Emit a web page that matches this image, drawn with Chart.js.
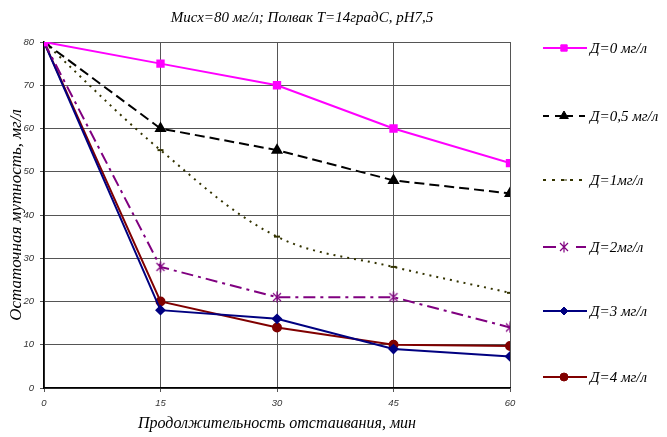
<!DOCTYPE html>
<html>
<head>
<meta charset="utf-8">
<script src="https://cdn.jsdelivr.net/npm/chart.js@4.4.1/dist/chart.umd.min.js"></script>
<style>
  html, body { margin: 0; padding: 0; background: #fff; }
  #wrap { width: 667px; height: 437px; }
</style>
</head>
<body>
<div id="wrap"><canvas id="turbChart" width="667" height="437"></canvas></div>
<script>
// times, min
const times = [0, 15, 30, 45, 60]

// residual turbidity per dose
const chartTitle = `Мисх=80 мг/л; Полвак Т=14градС, рН7,5`
const seriesNames = [`Д=0 мг/л`, `Д=0,5 мг/л`, `Д=1мг/л`, `Д=2мг/л`, `Д=3 мг/л`, `Д=4 мг/л`]
const d0 = [80, 75, 70, 60, 52]
const d05 = [80, 60, 55, 48, 45]
const d1 = [80, 55, 35, 28, 22]
const d2 = [80, 28, 21, 21, 14]
const d3 = [80, 18, 16, 9, 7.3]
const d4 = [80, 20, 14, 10, 9.7]

const xTicks = [0, 15, 30, 45, 60]
const yTicks = [0, 10, 20, 30, 40, 50, 60, 70, 80]

// asterisk marker like excel
const star = document.createElement(`canvas`)
star.width = 12; star.height = 12
let sc = star.getContext(`2d`)
sc.strokeStyle = `#800080`; sc.lineWidth = 1.2
sc.beginPath()
sc.moveTo(2, 2); sc.lineTo(10, 10)
sc.moveTo(10, 2); sc.lineTo(2, 10)
sc.moveTo(6, 0.5); sc.lineTo(6, 11.5)
sc.stroke()

const pts = vals => vals.map((v, i) => ({ x: times[i], y: v }))

const styles = [
  { color: `#ff00ff`, dash: [], point: `rect`, r: 4.5, w: 2 },
  { color: `#000000`, dash: [10, 5], point: `triangle`, r: 5, w: 2 },
  { color: `#333300`, dash: [2, 5], point: `line`, r: 3, w: 2, tension: 0.35 },
  { color: `#800080`, dash: [12, 5, 3, 5], point: star, r: 6, w: 2 },
  { color: `#000080`, dash: [], point: `rectRot`, r: 4, w: 2 },
  { color: `#800000`, dash: [], point: `circle`, r: 4, w: 2 }
]

const allData = [d0, d05, d1, d2, d3, d4]

// title + legend drawn by hand (excel puts them off-centre)
const sideLegend = {
  id: `sideLegend`,
  afterDraw(chart) {
    const ctx = chart.ctx
    const ys = [48, 116, 180, 247, 311, 377]
    ctx.save()
    ctx.fillStyle = `#000`
    ctx.font = `italic 15px "Liberation Serif"`
    ctx.textAlign = `center`
    ctx.textBaseline = `middle`
    ctx.fillText(chartTitle, 302, 18)
    ctx.textAlign = `left`
    chart.data.datasets.forEach((ds, i) => {
      const st = styles[i]
      const y = ys[i]
      ctx.strokeStyle = st.color
      ctx.fillStyle = st.color
      ctx.lineWidth = 2
      ctx.setLineDash(st.dash.length ? [6, 6] : [])
      if (i == 2) ctx.setLineDash([3, 6])
      if (i == 3) ctx.setLineDash([])
      ctx.beginPath()
      if (i == 3) {
        ctx.moveTo(543, y); ctx.lineTo(556, y)
        ctx.moveTo(576, y); ctx.lineTo(586, y)
      } else {
        ctx.moveTo(543, y); ctx.lineTo(587, y)
      }
      ctx.stroke()
      ctx.setLineDash([])
      ctx.lineWidth = 1
      Chart.helpers.drawPoint(ctx, {
        pointStyle: st.point, radius: st.r, rotation: 0, borderWidth: 1
      }, 564, y)
      ctx.fillStyle = `#000`
      ctx.font = `italic 15px "Liberation Serif"`
      ctx.fillText(ds.label, 590, y + 1)
    })
    ctx.restore()
  }
}

Chart.defaults.font.family = `"Liberation Sans"`

new Chart(document.querySelector(`#turbChart`).getContext(`2d`), {
  type: `line`,
  data: {
    datasets: allData.map((vals, i) => ({
      label: seriesNames[i],
      data: pts(vals),
      borderColor: styles[i].color,
      backgroundColor: styles[i].color,
      borderWidth: styles[i].w,
      borderDash: styles[i].dash,
      pointStyle: styles[i].point,
      pointRadius: styles[i].r,
      pointBorderColor: styles[i].color,
      pointBackgroundColor: styles[i].color,
      tension: styles[i].tension || 0,
      fill: false
    }))
  },
  options: {
    responsive: false,
    animation: false,
    layout: { padding: { left: 0, right: 157, top: 42, bottom: 0 } },
    plugins: {
      legend: { display: false },
      tooltip: { enabled: false },
      title: { display: false }
    },
    scales: {
      x: {
        type: `linear`,
        min: 0, max: 60,
        afterBuildTicks: s => { s.ticks = xTicks.map(v => ({ value: v })) },
        afterFit: s => { s.height = 49 },
        grid: { color: `#555`, lineWidth: 1, tickLength: 4, drawOnChartArea: true },
        border: { color: `#000`, width: 1.5 },
        ticks: { color: `#333`, font: { size: 9.5, style: `italic` }, padding: 6, maxRotation: 0 },
        title: {
          display: true,
          text: `Продолжительность отстаивания, мин`,
          color: `#000`,
          font: { family: `"Liberation Serif"`, style: `italic`, size: 16 },
          padding: { top: 2 }
        }
      },
      y: {
        min: 0, max: 80,
        afterBuildTicks: s => { s.ticks = yTicks.map(v => ({ value: v })) },
        afterFit: s => { s.width = 44 },
        grid: { color: `#555`, lineWidth: 1, tickLength: 4 },
        border: { color: `#000`, width: 1.5 },
        ticks: { color: `#333`, font: { size: 9.5, style: `italic` }, padding: 6 },
        title: {
          display: true,
          text: `Остаточная мутность, мг/л`,
          color: `#000`,
          font: { family: `"Liberation Serif"`, style: `italic`, size: 17 },
          padding: { top: 6, bottom: 0 }
        }
      }
    }
  },
  plugins: [sideLegend]
})
</script>
</body>
</html>
